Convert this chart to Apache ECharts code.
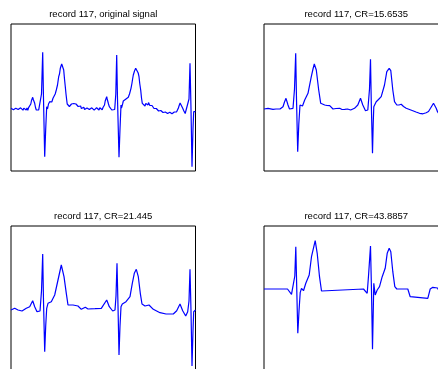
<!DOCTYPE html>
<html>
<head>
<meta charset="utf-8">
<script src="https://cdn.jsdelivr.net/npm/echarts@6/dist/echarts.min.js"></script>
<style>
  html, body { margin: 0; padding: 0; background: #fff; }
  #main { width: 438px; height: 369px; }
</style>
</head>
<body>
<div id="main"></div>
<script>
// panel titles, same order as the signals below
const titles = [
  'record 117, original signal',
  'record 117, CR=15.6535',
  'record 117, CR=21.445',
  'record 117, CR=43.8857'
]

// [time, amplitude] (arbitrary units)
const original = [
  [0, 0.7], [0.8, -1.2], [1.6, 1.5], [2.4, -0.8], [3.2, 1.2], [4, -1.5], [4.8, 0.8], [5.6, -1], [6.4, 1.8], [7.2, -0.5],
  [8, 1], [8.8, -1.6], [9.6, 1.2], [10.4, -0.6], [11.2, 1.5], [12, -1.2], [12.8, 0.9], [13.6, -0.8], [14.4, 1.6],
  [15.2, -1], [16, 1.1], [16.8, -1.3], [17.6, 1.4], [18.4, 0.2], [19, 2.3], [19.8, 5], [20.5, 8.5], [21.2, 10], [21.7, 11.7],
  [22.3, 9.5], [22.9, 10], [23.7, 5.7], [24.5, 1.5], [25.3, -1], [26.1, 0], [27, -2.5], [27.7, -0.8], [28.3, -2], [29.3, -0.5],
  [30.5, 15], [31.7, 56.7], [32.5, 10], [33.7, -47.7], [34.7, -20], [35.7, 2.3], [36.5, 0], [37.5, 5], [38.1, 3.5],
  [38.7, 7.3], [39.7, 5.5], [40.3, 8], [40.8, 7], [42, 10.7], [42.5, 9], [43, 11], [43.6, 10.5], [44.2, 15], [44.8, 14],
  [45.3, 19], [46, 19.5], [46.5, 24], [47.1, 26], [47.7, 32.3], [48.5, 35], [49.3, 40.7], [49.9, 41], [50.7, 45], [51.2, 43],
  [51.7, 44], [52.7, 39], [53.5, 30], [54.3, 22.3], [55, 15], [55.7, 9], [56.2, 5], [56.7, 6.5], [57.7, 4.7], [58.4, 2.5],
  [59, 3.5], [59.8, 2], [60.5, 5], [61.2, 3], [62, 4.5], [62.8, 5.5], [63.7, 7.3], [64.4, 4], [65, 5], [65.7, 3.5], [66.5, 5.5],
  [67.2, 2.5], [68, 3.5], [68.8, 1.5], [69.6, 3], [70.4, 0.5], [71.2, 2.5], [72, 0], [72.8, 1.8], [73.6, -0.5], [74.4, 1.5],
  [75.2, -0.8], [76, 1], [76.8, -1], [77.6, 1.2], [78.4, -0.6], [79.2, 0.8], [80, -1.2], [80.8, 1.2], [81.6, -0.5], [82.4, 1],
  [83.2, -1.2], [84, 0.8], [84.8, -1], [85.6, 1.3], [86.4, -0.5], [87.2, 0.8], [88, -1], [88.8, 1.2], [89.6, -0.4], [90.4, 1],
  [91.2, -0.8], [92, 1.5], [92.8, 2], [93.5, 4], [94.2, 8], [94.9, 10], [95.7, 12.3], [96.2, 10], [96.8, 10.5], [97.5, 5],
  [98.3, 2.3], [99.1, 0.5], [100, 1], [100.8, -1], [101.7, -1.7], [102.2, 0], [102.7, -1.5], [103.7, -0.5], [104.8, 15],
  [105.7, 54], [106.5, 10], [108, -48.3], [109, -20], [110, 4], [110.5, 1], [111, 3], [111.6, 5], [112.3, 8], [113, 6],
  [113.5, 7.5], [114.2, 8], [115, 10], [115.6, 8.5], [116.2, 10], [116.8, 10.5], [117.3, 11.7], [117.9, 13], [118.5, 15],
  [119.2, 17], [120, 20.7], [120.5, 22], [121, 26], [121.6, 30], [122.3, 34], [122.9, 35], [123.5, 38], [124.1, 39],
  [124.7, 40.7], [125.1, 40], [125.5, 42], [126, 40.5], [126.5, 41], [127.2, 36], [128, 32.3], [128.8, 25], [129.7, 19],
  [130.5, 11], [131.3, 5.7], [131.9, 6.5], [132.5, 4.5], [133.2, 5], [134, 3], [134.8, 5.5], [135.5, 4.5], [136.2, 6], [137, 4],
  [137.5, 6.5], [138, 5.7], [138.8, 3.5], [139.5, 4.5], [140.2, 2.5], [141, 3.5], [141.7, 1.5], [142.3, 2.5], [143, 0.5],
  [143.8, 1.5], [144.6, -0.5], [145.3, 0.5], [146, -1.5], [146.8, 0], [147.6, -2], [148.3, -0.8], [149, -2.5], [149.8, -1.5],
  [150.6, -3.2], [151.3, -2], [152, -3.5], [152.8, -2.5], [153.6, -4.5], [154.3, -3], [155, -4.8], [155.8, -3], [156.6, -4.5],
  [157.3, -3.2], [158, -5], [158.8, -3.2], [159.6, -4.6], [160.3, -3.5], [161, -4.8], [161.8, -3], [162.6, -4.5], [163.3, -3],
  [164, -4], [164.8, -2.5], [165.5, -3], [166, -1.5], [166.6, -2], [167.3, 0.7], [168, 3], [168.5, 5], [169.1, 6], [169.7, 7.3],
  [170.3, 5], [171, 4], [171.6, 1], [172.3, -1], [172.9, -2], [173.5, -3], [174.2, -4.5], [175, -6], [175.6, -4], [176.2, -3],
  [176.7, -2.7], [178, 10], [179, 45.7], [180, 0], [181, -57.7], [182, -20], [182.7, -2.7], [183.5, -1.5], [184.5, -2.7]
]

const cr15 = [
  [0, 0], [1, 0.5], [2, -1], [4, 0.7], [6, 0.3], [9, -0.3], [12, 0], [16, 0], [19, 2.3], [20.5, 7], [22, 10.7], [24, 4],
  [25.5, 0], [26.7, -1.7], [29, 0.7], [30.5, 20], [31.7, 55.7], [32.5, 10], [33.7, -42.7], [34.8, -15], [36, 4], [37.3, 5],
  [38.5, 3], [40.7, 9], [44, 15.7], [47.3, 32.3], [49, 40], [50.3, 45], [52.3, 39], [54.7, 19], [56.7, 5.7], [60.7, 4],
  [63, 3.5], [65.7, 3.3], [69, 0], [72, 0.5], [75.7, 0.7], [78, -0.5], [80.7, -0.3], [83.5, 0], [84.7, 2], [85.5, -0.3],
  [86.7, -1], [88.5, 0.3], [90.5, 0.7], [93.8, 4], [96.5, 10.7], [98.8, 4], [101.5, -1.7], [103.8, -1], [105.5, 20],
  [106.5, 49.7], [107.3, 5], [108.5, -44.3], [109.2, -15], [109.8, 2.3], [112.2, 7.3], [114.5, 9.5], [117.2, 12.3],
  [120.5, 24], [122.8, 37.3], [125.2, 40.7], [126.8, 38.3], [128.8, 19], [130.5, 7.3], [132.8, 4], [135, 4], [137.2, 4.7],
  [139.5, 2.5], [142.2, 0.7], [145.5, -0.5], [148.8, -1.7], [152, -3], [155.5, -4.3], [159, -4.8], [162.2, -3.7],
  [164.5, -2.5], [166.5, 0.7], [169.5, 5.7], [172.2, 0.7], [173.5, -2.7], [175, -5], [176.7, -2.7], [179, 45], [181, -56],
  [182.7, -2.7], [184.5, -2.7]
]

const cr21 = [
  [0, 1], [3.7, 2.7], [7, 1], [11, 0], [15.3, 2.7], [18.7, 4.3], [20.3, 7.5], [21.7, 10.3], [23.7, 4.3], [26, -0.7], [29, 0],
  [30.5, 20], [31.7, 57], [32.5, 10], [33.7, -40.7], [34.7, -15], [35.7, 2.7], [37, 7.7], [40.3, 9.3], [43.7, 16], [47, 31],
  [50.3, 46], [53, 34.3], [55.3, 17.7], [57, 6], [62, 6], [67, 5], [70.3, 1.7], [74.3, 3.7], [77, 2], [84, 2.3], [90.3, 2.7],
  [92.3, 4.3], [95.7, 11], [98.3, 4.3], [101.7, 0], [104, 1], [105, 15], [106, 47.7], [107, 5], [108, -44], [109, -15],
  [110, 4.3], [111.3, 7], [115, 9.3], [119, 14.3], [121.3, 27.7], [123.3, 37.7], [125.3, 41.7], [127.3, 34.3], [129.3, 17.7],
  [131, 7], [134, 5], [138, 6], [142.3, 1.7], [149, -1.7], [155, -3], [162.3, -3], [165.7, 0.3], [169, 7], [171.7, 0.3],
  [174.7, -5], [176.7, -0.7], [178, 10], [179, 41.7], [180, 0], [181, -55], [182, -20], [182.7, -0.7], [184.5, 1]
]

const cr43 = [
  [0, 22], [23.5, 22], [25.5, 21], [27.5, 16.7], [29.5, 15.7], [30.8, 35], [31.8, 64.3], [32.8, 20], [33.8, -22.3], [35, 0],
  [36.2, 18.3], [37.5, 22.7], [39.5, 20.3], [41.8, 27.7], [45.2, 36], [47.5, 54.3], [51.2, 70.3], [53.2, 57.7], [55.5, 34.3],
  [57.5, 20], [59.5, 22], [99.5, 22], [101.5, 20], [103.2, 17.7], [104.5, 35], [106.5, 65], [107.5, 20], [108.5, -38.3],
  [109.8, 27.7], [111.2, 16], [113.2, 21], [115.5, 24.3], [118.2, 34.3], [121.2, 42.7], [123.2, 57.7], [125.2, 62.7],
  [126.8, 59.3], [128.8, 39.3], [130.8, 24.3], [132.8, 22], [143.8, 22], [146.2, 14.3], [147.8, 12.7], [163.8, 12.7],
  [166.2, 22], [168.8, 23.7], [173.5, 23], [176, 18], [179, 55], [181, -30], [183, 20], [184.5, 22]
]

const signals = [original, cr15, cr21, cr43]

const myChart = echarts.init(document.getElementById('main'))

// 2x2 layout, right column and bottom row run past the window edge
const boxes = [
  { left: 11, top: 24 },
  { left: 264, top: 24 },
  { left: 11, top: 226 },
  { left: 264, top: 226 }
]
const boxW = 184.5
const boxH = 147

const grid = []
const xAxis = []
const yAxis = []
const series = []
const title = []

boxes.forEach((b, i) => {
  grid.push({
    left: b.left,
    top: b.top,
    width: boxW,
    height: boxH,
    outerBoundsMode: 'none', // v6 would otherwise squeeze the grid into the window
    show: true,
    borderColor: '#000',
    borderWidth: 1,
    backgroundColor: '#fff'
  })
  xAxis.push({
    type: 'value',
    gridIndex: i,
    min: 0,
    max: 184.5,
    axisLine: { show: false },
    axisTick: { show: false },
    axisLabel: { show: false },
    splitLine: { show: false }
  })
  yAxis.push({
    type: 'value',
    gridIndex: i,
    min: -62,
    max: 85,
    axisLine: { show: false },
    axisTick: { show: false },
    axisLabel: { show: false },
    splitLine: { show: false }
  })
  series.push({
    type: 'line',
    xAxisIndex: i,
    yAxisIndex: i,
    showSymbol: false,
    animation: false,
    lineStyle: { color: '#0000ff', width: 1.2 },
    data: signals[i]
  })
  title.push({
    text: titles[i],
    left: b.left + boxW / 2,
    top: b.top - 15,
    textAlign: 'center',
    padding: 0,
    textStyle: {
      fontFamily: 'Liberation Sans',
      fontSize: 9.5,
      fontWeight: 'normal',
      color: '#000'
    }
  })
})

const option = {
  animation: false,
  title: title,
  grid: grid,
  xAxis: xAxis,
  yAxis: yAxis,
  series: series
}
myChart.setOption(option)
</script>
</body>
</html>
